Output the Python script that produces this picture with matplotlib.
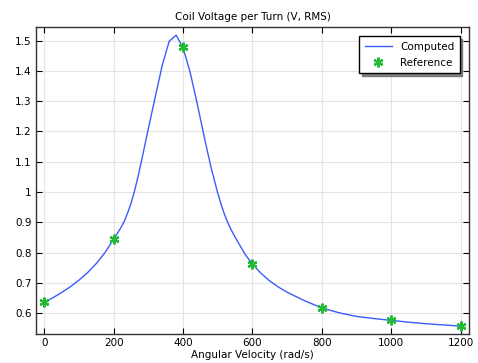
import numpy as np
import matplotlib.pyplot as plt

# Computed curve
w_comp = [0, 25, 50, 75, 100, 125, 150, 175, 200, 210, 220, 230, 240, 250, 260,
          270, 280, 290, 300, 320, 340, 360, 380, 400, 420, 440, 460, 480, 490,
          500, 510, 520, 530, 540, 550, 560, 580, 600, 625, 650, 675, 700, 750,
          800, 850, 900, 950, 1000, 1050, 1100, 1150, 1200]
v_comp = [0.636, 0.651, 0.668, 0.687, 0.709, 0.734, 0.764, 0.800, 0.845, 0.862,
          0.881, 0.902, 0.930, 0.963, 1.003, 1.050, 1.102, 1.156, 1.210, 1.315,
          1.419, 1.498, 1.518, 1.476, 1.397, 1.296, 1.187, 1.084, 1.040, 0.996,
          0.958, 0.924, 0.896, 0.872, 0.851, 0.831, 0.792, 0.762, 0.731, 0.706,
          0.686, 0.669, 0.641, 0.617, 0.601, 0.589, 0.582, 0.576, 0.570, 0.565,
          0.561, 0.557]

# Reference points
w_ref = [0, 200, 400, 600, 800, 1000, 1200]
v_ref = [0.636, 0.845, 1.478, 0.762, 0.617, 0.576, 0.557]

plt.rcParams['font.size'] = 7.5
fig = plt.figure(figsize=(4.78, 3.63), dpi=100)
ax = fig.add_axes([0.0753, 0.0799, 0.9057, 0.8457])

ax.plot(w_comp, v_comp, color='#3a5cff', lw=1.0, label='Computed')
ax.plot(w_ref, v_ref, linestyle='none', marker=(6, 2, 0), markersize=7,
        markeredgewidth=1.6, color='#22bb33', label='Reference')

ax.set_xlim(-24, 1224)
ax.set_ylim(0.531, 1.545)
ax.set_xticks([0, 200, 400, 600, 800, 1000, 1200])
ax.set_yticks([0.6, 0.7, 0.8, 0.9, 1.0, 1.1, 1.2, 1.3, 1.4, 1.5])
ax.set_yticklabels(['0.6', '0.7', '0.8', '0.9', '1', '1.1', '1.2', '1.3', '1.4', '1.5'])
ax.tick_params(direction='in', top=True, right=True, length=4, width=0.8, pad=3)
ax.grid(color='#e4e4e4', lw=0.8)
ax.set_axisbelow(True)
for s in ax.spines.values():
    s.set_linewidth(1.0)
    s.set_color('#333333')

ax.set_title('Coil Voltage per Turn (V, RMS)', fontsize=7.5, pad=5)
ax.set_xlabel('Angular Velocity (rad/s)', fontsize=7.5, labelpad=1)

leg = ax.legend(loc='upper right', fancybox=False,
                shadow={'color': '#666666', 'alpha': 0.8}, framealpha=1,
                edgecolor='black', borderaxespad=0.9, fontsize=7.5,
                handlelength=2.6, borderpad=0.5, labelspacing=0.6)
leg.get_frame().set_linewidth(1.0)

fig.savefig('out.png', dpi=100)
